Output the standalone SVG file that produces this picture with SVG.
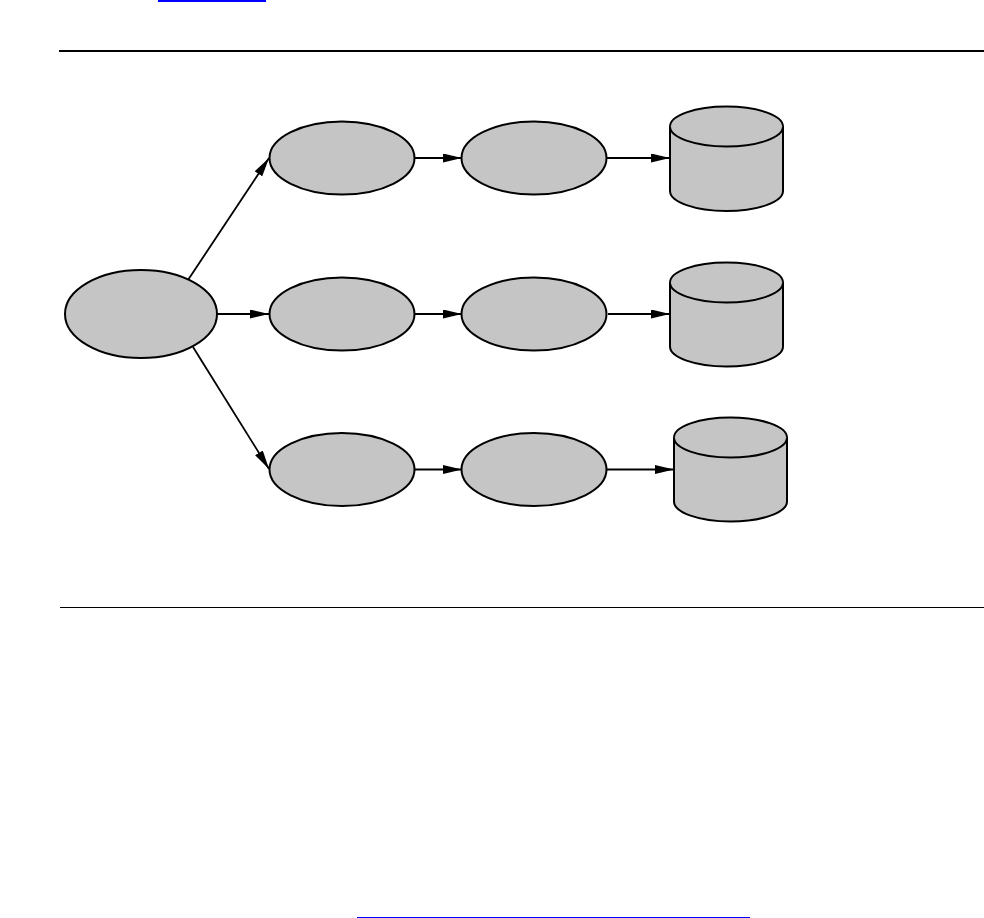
<svg xmlns="http://www.w3.org/2000/svg" width="984" height="918" viewBox="0 0 984 918">
<style>
.n{fill:#c5c5c5;stroke:#000;stroke-width:2}
.c{stroke:#000;stroke-width:1.8;fill:none}
</style>
<defs>
<marker id="ah" viewBox="0 0 19 9" refX="19" refY="4.5" markerWidth="19" markerHeight="9" markerUnits="userSpaceOnUse" orient="auto">
<path d="M0,0 L19,4.5 L0,9 Z" fill="#000"/>
</marker>
</defs>
<rect width="984" height="918" fill="#fff"/>
<g id="rules">
<line x1="158" y1="1" x2="266" y2="1" stroke="#0000ff" stroke-width="2"/>
<line x1="59" y1="51" x2="984" y2="51" stroke="#000" stroke-width="2"/>
<line x1="60" y1="607.5" x2="984" y2="607.5" stroke="#000" stroke-width="1"/>
<line x1="357" y1="917.5" x2="750" y2="917.5" stroke="#0000ff" stroke-width="1"/>
</g>
<g id="connectors">
<line class="c" x1="188" y1="280" x2="269" y2="158" marker-end="url(#ah)"/>
<line class="c" x1="217" y1="314" x2="269" y2="314" marker-end="url(#ah)"/>
<line class="c" x1="193" y1="347" x2="269" y2="469" marker-end="url(#ah)"/>
<line class="c" x1="415" y1="158" x2="462" y2="158" marker-end="url(#ah)"/>
<line class="c" x1="415" y1="314" x2="462" y2="314" marker-end="url(#ah)"/>
<line class="c" x1="415" y1="469.5" x2="462" y2="469.5" marker-end="url(#ah)"/>
<line class="c" x1="607" y1="158" x2="670" y2="158" marker-end="url(#ah)"/>
<line class="c" x1="608" y1="314" x2="670" y2="314" marker-end="url(#ah)"/>
<line class="c" x1="607" y1="469.5" x2="674" y2="469.5" marker-end="url(#ah)"/>
</g>
<g id="source"><ellipse class="n" cx="141" cy="314" rx="76" ry="44"/></g>
<g id="a1"><ellipse class="n" cx="342" cy="158" rx="72.5" ry="36.5"/></g>
<g id="a2"><ellipse class="n" cx="342" cy="314" rx="72.5" ry="36.5"/></g>
<g id="a3"><ellipse class="n" cx="342" cy="469.5" rx="72.5" ry="36.5"/></g>
<g id="b1"><ellipse class="n" cx="534" cy="158" rx="72.5" ry="36.5"/></g>
<g id="b2"><ellipse class="n" cx="534" cy="314" rx="72.5" ry="36.5"/></g>
<g id="b3"><ellipse class="n" cx="534" cy="469.5" rx="72.5" ry="36.5"/></g>
<g id="db1">
<path class="n" d="M670,126.5 L670,191 A56.5,20 0 0 0 783,191 L783,126.5 A56.5,20 0 0 0 670,126.5 Z"/>
<path class="n" d="M670,126.5 A56.5,20 0 0 0 783,126.5"/>
</g>
<g id="db2">
<path class="n" d="M670,282.5 L670,346.5 A56.5,20 0 0 0 783,346.5 L783,282.5 A56.5,20 0 0 0 670,282.5 Z"/>
<path class="n" d="M670,282.5 A56.5,20 0 0 0 783,282.5"/>
</g>
<g id="db3">
<path class="n" d="M674,437.5 L674,501.5 A56.5,20 0 0 0 787,501.5 L787,437.5 A56.5,20 0 0 0 674,437.5 Z"/>
<path class="n" d="M674,437.5 A56.5,20 0 0 0 787,437.5"/>
</g>
</svg>
